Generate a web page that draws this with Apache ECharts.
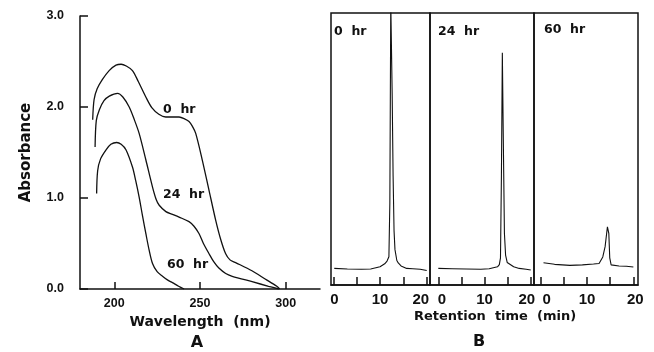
<!DOCTYPE html>
<html>
<head>
<meta charset="utf-8">
<script src="https://cdn.jsdelivr.net/npm/echarts@6/dist/echarts.min.js"></script>
<style>
  html, body { margin: 0; padding: 0; background: #fff; }
  #chart { width: 654px; height: 352px; }
</style>
</head>
<body>
<div id="chart"></div>
<script>
// panel A - UV spectra (wavelength nm / absorbance)
var wl0  = [187.4, 188.2, 190, 193, 197, 201, 204, 207, 210.6, 214, 218.4, 222, 226, 230, 237.8, 241, 243.6, 245.5, 247.5, 251.3, 255.2, 259.1, 262, 264.9, 267.5, 270.8, 280.3, 288, 294.8, 296.5];
var abs0 = [1.86, 2.08, 2.2, 2.3, 2.4, 2.46, 2.47, 2.45, 2.4, 2.28, 2.11, 1.99, 1.92, 1.89, 1.89, 1.87, 1.84, 1.79, 1.71, 1.42, 1.09, 0.76, 0.55, 0.39, 0.32, 0.29, 0.2, 0.11, 0.03, 0.0];
var wl24  = [188.8, 189.5, 191.3, 194, 197.1, 201.9, 205, 208.7, 211.5, 214.5, 218.4, 222.3, 224.5, 226.2, 230.1, 234, 237.8, 243.6, 246.5, 249.4, 252, 255.2, 258, 261, 265, 268.8, 280.4, 290, 296];
var abs24 = [1.56, 1.85, 1.97, 2.07, 2.12, 2.15, 2.11, 2.0, 1.87, 1.71, 1.42, 1.12, 0.98, 0.92, 0.85, 0.82, 0.79, 0.74, 0.69, 0.61, 0.5, 0.39, 0.3, 0.23, 0.17, 0.14, 0.08, 0.03, 0.0];
var wl60  = [189.7, 190.3, 192, 195.2, 198, 201.4, 204, 206.8, 210.6, 212.5, 214.5, 216.5, 218.4, 220.3, 222.3, 225, 228.1, 231, 233.9, 237.5, 240.7];
var abs60 = [1.05, 1.3, 1.43, 1.53, 1.59, 1.61, 1.59, 1.53, 1.34, 1.19, 1.01, 0.8, 0.61, 0.43, 0.28, 0.19, 0.14, 0.1, 0.07, 0.03, 0.0];
var wlTicks = [200, 250, 300];

// panel B - HPLC traces (retention time min / detector response, arbitrary)
var t0 = [0.2, 3, 6, 8, 10, 11, 11.5, 11.9, 12.1, 12.3, 12.45, 12.6, 12.8, 13.0, 13.2, 13.6, 13.9, 14.5, 15.7, 17, 18.6, 20];
var r0 = [6.1, 5.9, 5.8, 5.9, 6.7, 7.8, 8.8, 10.4, 30, 104, 104, 70, 40, 20, 13, 9, 8.1, 7, 6.1, 6, 5.8, 5.3];
var t24 = [0, 3, 6, 9.2, 11, 12.8, 13.2, 13.45, 13.65, 13.85, 14.05, 14.3, 14.55, 14.9, 16.3, 17.5, 19, 20];
var r24 = [6.1, 6.0, 5.9, 5.8, 6.0, 6.7, 7.5, 10, 40, 85.4, 55, 19, 11, 8.3, 6.7, 6.1, 5.8, 5.5];
var t60 = [0.6, 3, 6.3, 9, 11.4, 12.6, 13.4, 13.9, 14.4, 14.7, 14.9, 15.2, 16.9, 18.5, 20];
var r60 = [8.2, 7.6, 7.2, 7.4, 7.7, 7.9, 10.3, 14.1, 21.4, 19, 10, 7.4, 7.0, 6.9, 6.6];
var rtTicks = [0, 5, 10, 15, 20];
var rtLabels = [0, 10, 20];

function zip(xs, ys) {
  return xs.map(function (x, i) { return [x, ys[i]]; });
}

var FONT = "'Liberation Sans', Arial, sans-serif";
var WIDE = "'DejaVu Sans', sans-serif";
var INK = '#111';

var chart = echarts.init(document.getElementById('chart'));

// per panel: frame + small shifts of the end labels (as printed)
var bGrids = [
  { left: 331, width: 99, min: -0.5, max: 20.7, pad0: [0, 0, 0, 2], pad20: [0, 12, 0, 0] },
  { left: 430, width: 104, min: -1.8, max: 20.7, pad0: [0, 0, 0, 7], pad20: [0, 8, 0, 0] },
  { left: 534, width: 104, min: -1.45, max: 21.0, pad0: [0, 0, 0, 12], pad20: [0, 0, 0, 4] }
];

var grids = [{ left: 80, top: 16, width: 240, bottom: 63 }];
var xAxes = [{
  gridIndex: 0, type: 'value', min: 180, max: 320,
  name: 'Wavelength  (nm)', nameLocation: 'middle', nameGap: 25,
  nameTextStyle: { color: INK, fontFamily: WIDE, fontWeight: 'bold', fontSize: 14 },
  axisLine: { lineStyle: { color: INK, width: 1.5 } },
  axisTick: { inside: true, length: 7, customValues: wlTicks, lineStyle: { color: INK, width: 1.5 } },
  axisLabel: { customValues: wlTicks, color: INK, fontFamily: FONT, fontWeight: 'bold', fontSize: 12.5, margin: 8 },
  splitLine: { show: false }
}];
var yAxes = [{
  gridIndex: 0, type: 'value', min: 0, max: 3, interval: 1,
  name: 'Absorbance', nameLocation: 'middle', nameGap: 46, nameRotate: 90,
  nameTextStyle: { color: INK, fontFamily: WIDE, fontWeight: 'bold', fontSize: 15 },
  axisLine: { show: true, lineStyle: { color: INK, width: 1.5 } },
  axisTick: { show: true, inside: true, length: 8, lineStyle: { color: INK, width: 1.5 } },
  axisLabel: { color: INK, fontFamily: FONT, fontWeight: 'bold', fontSize: 12.5, margin: 16,
    formatter: function (v) { return v.toFixed(1); } },
  splitLine: { show: false }
}];

bGrids.forEach(function (g, i) {
  grids.push({ left: g.left, width: g.width, top: 13, bottom: 67, show: true,
    borderColor: INK, borderWidth: 1.5, backgroundColor: 'transparent' });
  xAxes.push({
    gridIndex: i + 1, type: 'value', min: g.min, max: g.max,
    axisLine: { lineStyle: { color: INK, width: 1.5 } },
    axisTick: { inside: true, length: 8, customValues: rtTicks, lineStyle: { color: INK, width: 1.5 } },
    axisLabel: {
      customValues: rtLabels, color: INK, fontFamily: FONT, fontWeight: 'bold', fontSize: 15, margin: 7,
      formatter: function (v) {
        if (v === 0) return '{a|0}';
        if (v === 20) return '{b|20}';
        return String(v);
      },
      rich: {
        a: { fontFamily: FONT, fontWeight: 'bold', fontSize: 15, color: INK, padding: g.pad0 },
        b: { fontFamily: FONT, fontWeight: 'bold', fontSize: 15, color: INK, padding: g.pad20 }
      }
    },
    splitLine: { show: false }
  });
  yAxes.push({
    gridIndex: i + 1, type: 'value', min: 0, max: 100,
    axisLine: { show: false }, axisTick: { show: false }, axisLabel: { show: false },
    splitLine: { show: false }
  });
});

function lineSeries(idx, data, smooth, width) {
  return {
    type: 'line', xAxisIndex: idx, yAxisIndex: idx, data: data,
    showSymbol: false, symbol: 'none', smooth: smooth, clip: true,
    lineStyle: { color: INK, width: width }, silent: true, animation: false
  };
}

function txt(x, y, s, size, align) {
  return {
    type: 'text', x: x, y: y,
    style: { text: s, fill: INK, font: 'bold ' + size + 'px ' + WIDE,
      textAlign: align || 'left', textVerticalAlign: 'middle' }
  };
}

chart.setOption({
  backgroundColor: '#fff',
  animation: false,
  grid: grids,
  xAxis: xAxes,
  yAxis: yAxes,
  series: [
    lineSeries(0, zip(wl0, abs0), 0.3, 1.3),
    lineSeries(0, zip(wl24, abs24), 0.3, 1.3),
    lineSeries(0, zip(wl60, abs60), 0.3, 1.3),
    lineSeries(1, zip(t0, r0), false, 1.1),
    lineSeries(2, zip(t24, r24), false, 1.1),
    lineSeries(3, zip(t60, r60), false, 1.1)
  ],
  graphic: [
    txt(163, 110, '0  hr', 12.5),
    txt(163, 195, '24  hr', 12.5),
    txt(167, 265, '60  hr', 12.5),
    txt(197, 343, 'A', 16, 'center'),
    txt(334, 32, '0  hr', 12.5),
    txt(438, 32, '24  hr', 12.5),
    txt(544, 30, '60  hr', 12.5),
    txt(495, 317, 'Retention  time  (min)', 13, 'center'),
    txt(479, 342, 'B', 16, 'center')
  ]
});
</script>
</body>
</html>
